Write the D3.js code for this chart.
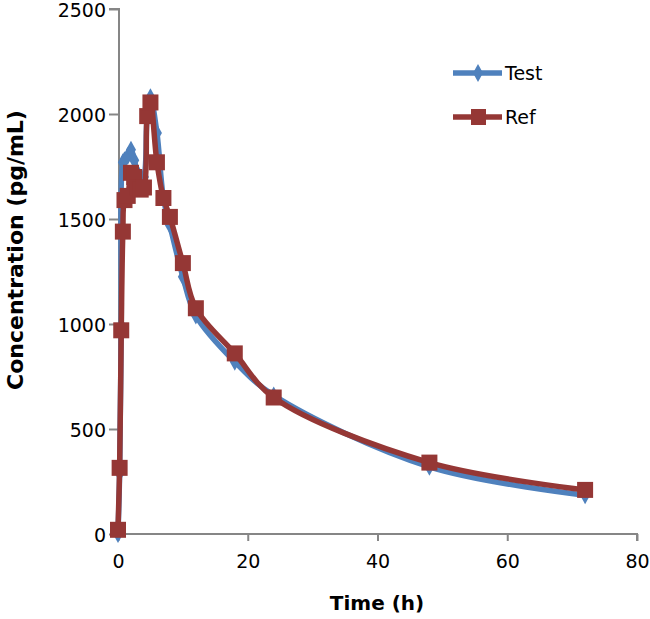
<!DOCTYPE html>
<html>
<head>
<meta charset="utf-8">
<script src="https://cdn.jsdelivr.net/npm/d3@7"></script>
<style>
  html, body { margin: 0; padding: 0; background: #fff; }
  svg { display: block; }
</style>
</head>
<body>
<svg id="chart" width="650" height="619"></svg>
<script>
// ---- data ----
const times = [0, 0.25, 0.5, 0.75, 1, 1.5, 2, 2.5, 3, 3.5, 4, 4.5, 5, 6, 7, 8, 10, 12, 18, 24, 48, 72];
const testValues = [0, 290, 990, 1770, 1780, 1800, 1830, 1780, 1720, 1680, 1700, 2000, 2080, 1910, 1600, 1470, 1225, 1040, 820, 660, 320, 185];
const refValues  = [20, 315, 970, 1440, 1590, 1610, 1720, 1700, 1650, 1640, 1650, 1990, 2055, 1770, 1600, 1510, 1290, 1075, 860, 650, 340, 210];
const xTicks = [0, 20, 40, 60, 80];
const yTicks = [0, 500, 1000, 1500, 2000, 2500];
const seriesNames = ["Test", "Ref"];

const svg = d3.select("#chart");
const x = d3.scaleLinear().domain([0, 80]).range([118, 637]);
const y = d3.scaleLinear().domain([0, 2500]).range([534, 9]);

const blue = "#4F81BD", red = "#953735", axisCol = "#868686";
const tickFont = "DejaVu Sans, sans-serif";

// axes
const xAxis = svg.append("g").attr("transform", "translate(0,534)")
  .call(d3.axisBottom(x).tickValues(xTicks).tickSize(7).tickPadding(14).tickFormat(d3.format("d")));
const yAxis = svg.append("g").attr("transform", "translate(119,0)")
  .call(d3.axisLeft(y).tickValues(yTicks).tickSize(10).tickPadding(3).tickFormat(d3.format("d")));
[xAxis, yAxis].forEach(g => {
  g.select(".domain").attr("stroke", axisCol).attr("stroke-width", 2);
  g.selectAll(".tick line").attr("stroke", axisCol).attr("stroke-width", 2);
  g.selectAll(".tick text").attr("fill", "#000").style("font-family", tickFont).style("font-size", "19px");
});
yAxis.selectAll(".tick text").attr("dy", "0.42em");
xAxis.select(".domain").attr("d", "M119,0H" + x(80) + "V7");
yAxis.select(".domain").attr("d", "M-10," + y(2500) + "H0V534");

// titles
svg.append("text").attr("x", 377).attr("y", 610).attr("text-anchor", "middle")
  .style("font-family", tickFont).style("font-weight", "bold").style("font-size", "20px")
  .text("Time (h)");
svg.append("text").attr("transform", "translate(23,250) rotate(-90)").attr("text-anchor", "middle")
  .style("font-family", tickFont).style("font-weight", "bold").style("font-size", "22px")
  .text("Concentration (pg/mL)");

// lines
const line = (vals) => d3.line().curve(d3.curveCatmullRom.alpha(0.5))
  .x((d, i) => x(times[i])).y(d => y(d))(vals);

const diamond = "M0,-9L5,0L0,9L-5,0Z";

svg.append("path").attr("d", line(testValues)).attr("fill", "none")
  .attr("stroke", blue).attr("stroke-width", 5.5).attr("stroke-linejoin", "round");
svg.append("g").selectAll("path").data(testValues).join("path")
  .attr("transform", (d, i) => `translate(${x(times[i])},${y(d)})`)
  .attr("d", diamond).attr("fill", blue);

svg.append("path").attr("d", line(refValues)).attr("fill", "none")
  .attr("stroke", red).attr("stroke-width", 5.5).attr("stroke-linejoin", "round");
svg.append("g").selectAll("rect").data(refValues).join("rect")
  .attr("x", (d, i) => x(times[i]) - 8).attr("y", d => y(d) - 8)
  .attr("width", 16).attr("height", 16).attr("fill", red);

// legend
const legend = svg.append("g");
[blue, red].forEach((c, i) => {
  const ly = 73 + i * 44;
  legend.append("line").attr("x1", 453).attr("x2", 502).attr("y1", ly).attr("y2", ly)
    .attr("stroke", c).attr("stroke-width", 5.5);
  if (i === 0) legend.append("path").attr("transform", `translate(478,${ly})`).attr("d", diamond).attr("fill", c);
  else legend.append("rect").attr("x", 471).attr("y", ly - 8).attr("width", 15).attr("height", 16).attr("fill", c);
  legend.append("text").attr("x", 505).attr("y", ly + 7).style("font-family", tickFont).style("font-size", "19px")
    .text(seriesNames[i]);
});
</script>
</body>
</html>
